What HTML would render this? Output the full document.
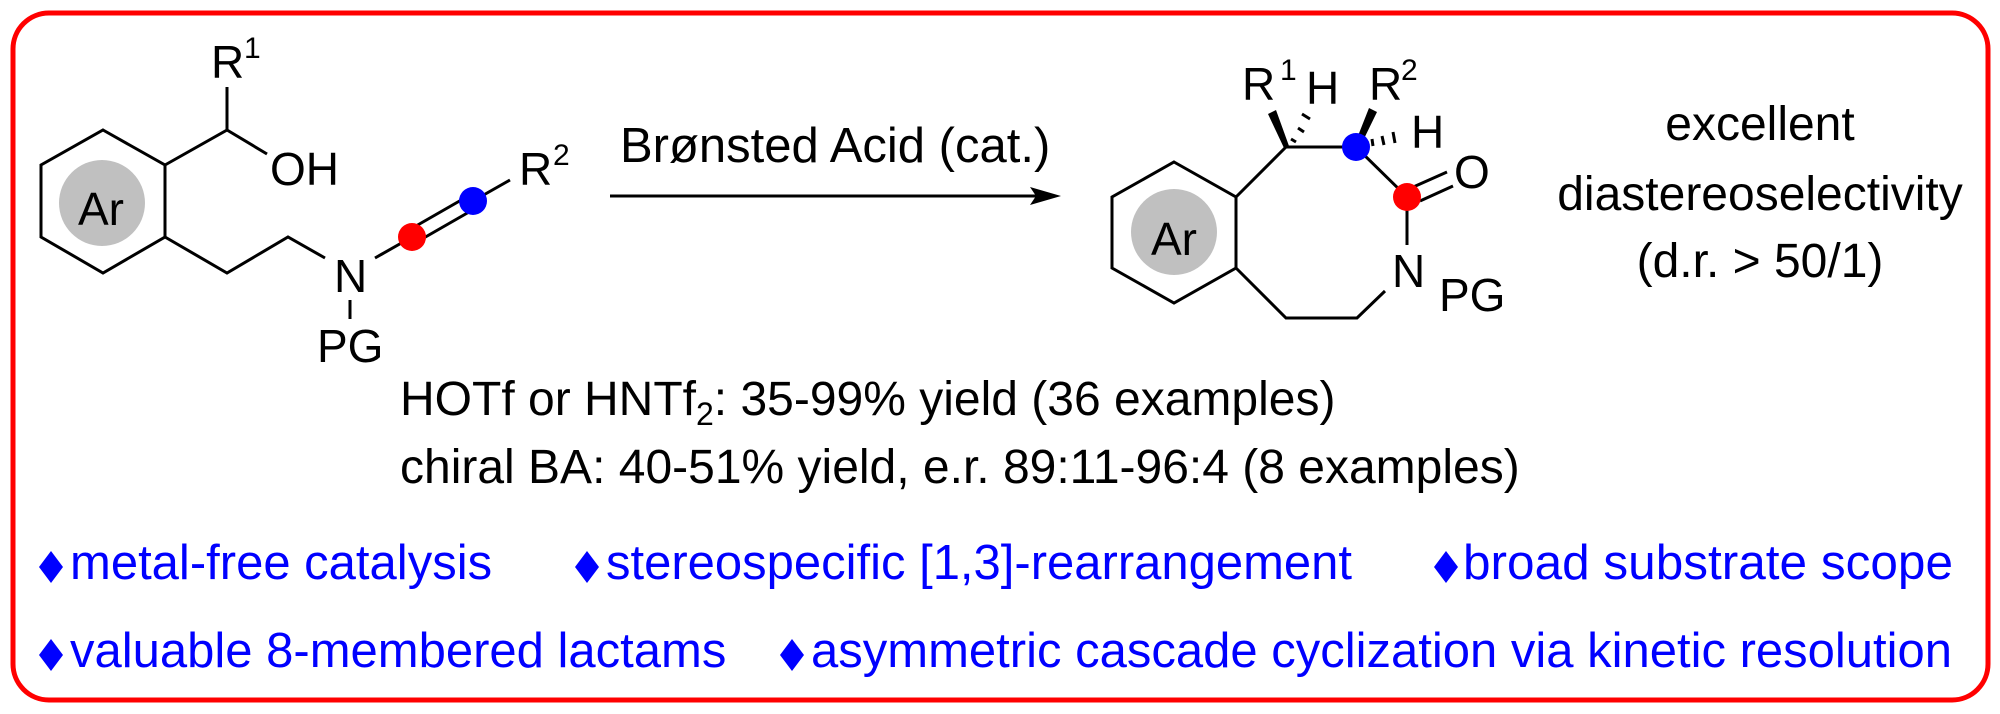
<!DOCTYPE html>
<html><head><meta charset="utf-8"><style>
html,body{margin:0;padding:0;background:#fff;}
svg{display:block;}
text{font-family:"Liberation Sans",Arial,sans-serif;}
</style></head><body>
<svg width="2000" height="714" viewBox="0 0 2000 714" xmlns="http://www.w3.org/2000/svg">
<rect x="13" y="13" width="1975" height="687" rx="36" ry="36" fill="none" stroke="#ff0000" stroke-width="5"/>

<!-- Left molecule -->
<g stroke="#000" stroke-width="3" fill="none" stroke-linejoin="miter">
  <polygon points="103,130 165,165 165,237 103,273 41,237 41,165"/>
  <polyline points="165,165 227,130 227,87"/>
  <line x1="227" y1="130" x2="267" y2="154"/>
  <polyline points="165,237 227,273 288,237 325,258"/>
  <line x1="375" y1="258" x2="412" y2="237"/>
  <line x1="409" y1="230" x2="470" y2="195"/>
  <line x1="415" y1="243" x2="476" y2="208"/>
  <line x1="473" y1="201" x2="510" y2="180"/>
  <line x1="350" y1="300" x2="350" y2="319"/>
</g>
<circle cx="102" cy="203" r="43" fill="#c0c0c0"/>
<circle cx="412" cy="237" r="14" fill="#ff0000"/>
<circle cx="473" cy="201" r="14" fill="#0000ff"/>
<g font-size="46" fill="#000">
  <text x="78" y="225">Ar</text>
  <text x="211" y="78">R</text>
  <text x="244" y="58" font-size="30">1</text>
  <text x="270" y="185">OH</text>
  <text x="334" y="292">N</text>
  <text x="317" y="362">PG</text>
  <text x="519" y="185">R</text>
  <text x="553" y="165" font-size="30">2</text>
</g>

<!-- Arrow -->
<line x1="610" y1="196" x2="1040" y2="196" stroke="#000" stroke-width="3"/>
<polygon points="1061,196 1030,187 1036,196 1030,205" fill="#000"/>
<text x="620" y="162" font-size="49" fill="#000">Brønsted Acid (cat.)</text>

<!-- Right molecule -->
<g stroke="#000" stroke-width="3" fill="none">
  <polygon points="1174,162 1236,197 1236,268 1174,303 1112,268 1112,197"/>
  <polyline points="1236,197 1286,147 1356,147 1407,197 1407,245"/>
  <polyline points="1385,291 1357,318 1286,318 1236,268"/>
  <line x1="1411" y1="188" x2="1447" y2="172"/>
  <line x1="1420" y1="201" x2="1453" y2="186"/>
</g>
<circle cx="1174" cy="232" r="43" fill="#c0c0c0"/>
<polygon points="1284,148 1289,146 1276,110 1268,114" fill="#000"/>
<polygon points="1354,146 1359,149 1377,112 1369,108" fill="#000"/>
<g stroke="#000" stroke-width="3">
  <line x1="1291" y1="139" x2="1296" y2="142"/>
  <line x1="1298" y1="128" x2="1304" y2="132"/>
  <line x1="1302" y1="114" x2="1310" y2="119"/>
  <line x1="1372" y1="139" x2="1373" y2="146"/>
  <line x1="1382" y1="136" x2="1384" y2="145"/>
  <line x1="1393" y1="132" x2="1395" y2="143"/>
</g>
<circle cx="1356" cy="147" r="14" fill="#0000ff"/>
<circle cx="1407" cy="197" r="14" fill="#ff0000"/>
<g font-size="46" fill="#000">
  <text x="1151" y="255">Ar</text>
  <text x="1242" y="100">R</text>
  <text x="1280" y="80" font-size="30">1</text>
  <text x="1306" y="104">H</text>
  <text x="1369" y="100">R</text>
  <text x="1401" y="80" font-size="30">2</text>
  <text x="1411" y="148">H</text>
  <text x="1454" y="188">O</text>
  <text x="1392" y="287">N</text>
  <text x="1439" y="311">PG</text>
</g>

<g font-size="48" fill="#000" text-anchor="middle">
  <text x="1760" y="140">excellent</text>
  <text x="1760" y="210">diastereoselectivity</text>
  <text x="1760" y="277">(d.r. &gt; 50/1)</text>
</g>

<g font-size="48" fill="#000">
  <text x="400" y="415">HOTf or HNTf<tspan font-size="32" dy="10">2</tspan><tspan dy="-10">: 35-99% yield (36 examples)</tspan></text>
  <text x="400" y="483">chiral BA: 40-51% yield, e.r. 89:11-96:4 (8 examples)</text>
</g>

<g fill="#0000ff">
  <polygon points="51,551 63,567 51,583 39,567"/>
  <polygon points="587,551 599,567 587,583 575,567"/>
  <polygon points="1446,551 1458,567 1446,583 1434,567"/>
  <polygon points="51,639 63,655 51,671 39,655"/>
  <polygon points="792,639 804,655 792,671 780,655"/>
</g>
<g font-size="49" fill="#0000ff">
  <text x="70" y="579">metal-free catalysis</text>
  <text x="606" y="579" textLength="746" lengthAdjust="spacingAndGlyphs">stereospecific [1,3]-rearrangement</text>
  <text x="1463" y="579" textLength="490" lengthAdjust="spacingAndGlyphs">broad substrate scope</text>
  <text x="70" y="667">valuable 8-membered lactams</text>
  <text x="811" y="667">asymmetric cascade cyclization via kinetic resolution</text>
</g>
</svg>
</body></html>
